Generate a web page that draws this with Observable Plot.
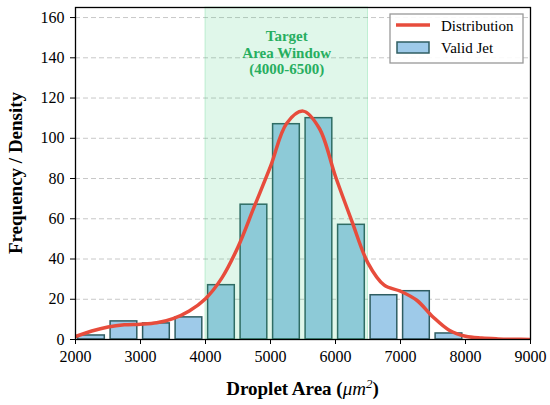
<!DOCTYPE html>
<html>
<head>
<meta charset="utf-8">
<script src="https://cdn.jsdelivr.net/npm/d3@7"></script>
<script src="https://cdn.jsdelivr.net/npm/@observablehq/plot@0.6"></script>
<style>
  html, body { margin: 0; padding: 0; background: #fff; }
  #chart { width: 550px; height: 405px; }
</style>
</head>
<body>
<div id="chart"></div>
<script>
// ---- data ----
const binStarts = [2000, 2500, 3000, 3500, 4000, 4500, 5000, 5500, 6000, 6500, 7000, 7500];
const counts    = [2, 9, 8, 11, 27, 67, 107, 110, 57, 22, 24, 3];
const curveX = [2000, 2250, 2500, 2750, 3000, 3250, 3500, 3750, 4000, 4250, 4500, 4750, 5000, 5250, 5500, 5750, 6000, 6250, 6500, 6750, 7000, 7250, 7500, 7750, 8000, 8250, 8500, 8750, 9000];
const curveY = [1.5, 4.2, 6.2, 7.3, 7.6, 8.3, 10.4, 14.2, 20.3, 30.5, 46, 66, 86, 107.5, 113.5, 105, 81, 59, 38, 27, 24, 19.5, 11.2, 4.6, 1.6, 0.7, 0.3, 0.1, 0.05];
const windowRange = [4000, 6500];
const windowLabel = "Target\nArea Window\n(4000-6500)";
const xTicks = [2000, 3000, 4000, 5000, 6000, 7000, 8000, 9000];
const yTicks = [0, 20, 40, 60, 80, 100, 120, 140, 160];
const xDomain = [2000, 9000];
const yDomain = [0, 165];
const seriesNames = ["Distribution", "Valid Jet"];

const binWidth = binStarts[1] - binStarts[0];
const bars = binStarts.map((s, i) => ({start: s, end: s + binWidth, count: counts[i]}));
const curve = curveX.map((x, i) => ({x, y: curveY[i]}));

const FONT = "Liberation Serif";
const RED = "#e74c3c";
const BAR = "#9ecae9";
const EDGE = "#2f5d62";
const GREEN = "#2ecc71";
const GREEN_TXT = "#27ae60";

const plot = Plot.plot({
  width: 550,
  height: 405,
  marginLeft: 75,
  marginRight: 20,
  marginTop: 7,
  marginBottom: 66,
  style: {fontSize: "16px", background: "#fff", color: "#000"},
  x: {domain: xDomain},
  y: {domain: yDomain},
  marks: [
    Plot.gridY(yTicks, {stroke: "#c8c8c8", strokeOpacity: 1, strokeWidth: 1, strokeDasharray: "5,3"}),
    Plot.rectY(bars, {x1: "start", x2: "end", y: "count", insetLeft: 2.6, insetRight: 3.2,
      fill: BAR, stroke: EDGE, strokeWidth: 1.5}),
    Plot.rectX([windowRange], {x1: d => d[0], x2: d => d[1],
      fill: GREEN, fillOpacity: 0.15, stroke: GREEN, strokeOpacity: 0.25, strokeWidth: 1}),
    Plot.line(curve, {x: "x", y: "y", stroke: RED, strokeWidth: 3.5, curve: "catmull-rom", clip: true}),
    Plot.text([windowLabel], {x: () => (windowRange[0] + windowRange[1]) / 2, text: d => d,
      frameAnchor: "top", lineAnchor: "top", dy: 22, lineHeight: 1.1,
      fill: GREEN_TXT, fontWeight: "bold", fontSize: 15}),
    Plot.axisX({ticks: xTicks, tickFormat: d => String(d), tickSize: 5, tickPadding: 6,
      fontSize: 16, label: null, stroke: "#000", fill: "#000"}),
    Plot.axisY({ticks: yTicks, tickFormat: d => String(d), tickSize: 5, tickPadding: 6,
      fontSize: 16, label: null, stroke: "#000", fill: "#000"}),
    Plot.frame({stroke: "#000", strokeWidth: 1.3})
  ]
});

document.getElementById("chart").appendChild(plot);

// ---- axis labels & legend ----
const svg = d3.select(plot);
const fx = plot.scale("x"), fy = plot.scale("y");
const pLeft = fx.range[0], pRight = fx.range[1];
const pTop = fy.range[1], pBottom = fy.range[0];

const xl = svg.append("text")
  .attr("x", (pLeft + pRight) / 2).attr("y", 395)
  .attr("text-anchor", "middle")
  .attr("font-size", 19).attr("font-weight", "bold").attr("fill", "#000");
xl.append("tspan").text("Droplet Area (");
xl.append("tspan").attr("font-style", "italic").attr("font-weight", "normal").text("μm");
xl.append("tspan").attr("font-style", "italic").attr("font-weight", "normal").attr("font-size", 13).attr("dy", -7).text("2");
xl.append("tspan").attr("dy", 7).text(")");

svg.append("text")
  .attr("transform", `translate(22,${(pTop + pBottom) / 2}) rotate(-90)`)
  .attr("text-anchor", "middle")
  .attr("font-size", 19).attr("font-weight", "bold").attr("fill", "#000")
  .text("Frequency / Density");

const lg = svg.append("g").attr("transform", `translate(${pRight - 140},${pTop + 7})`);
lg.append("rect").attr("x", 0).attr("y", 0).attr("width", 133).attr("height", 49)
  .attr("fill", "#fff").attr("fill-opacity", 0.9).attr("stroke", "#999").attr("stroke-width", 1.3);
lg.append("line").attr("x1", 6).attr("x2", 40).attr("y1", 11).attr("y2", 11)
  .attr("stroke", RED).attr("stroke-width", 3.5);
lg.append("rect").attr("x", 7).attr("y", 28).attr("width", 32).attr("height", 11)
  .attr("fill", BAR).attr("stroke", EDGE).attr("stroke-width", 1.5);
lg.append("text").attr("x", 51).attr("y", 17).attr("text-anchor", "start").attr("font-size", 15)
  .attr("fill", "#000").text(seriesNames[0]);
lg.append("text").attr("x", 51).attr("y", 39).attr("text-anchor", "start").attr("font-size", 15)
  .attr("fill", "#000").text(seriesNames[1]);

// apply serif font to every text element directly
plot.setAttribute("font-family", FONT);
plot.style.fontFamily = FONT;
svg.selectAll("text, tspan").each(function() { this.style.fontFamily = FONT; });
</script>
</body>
</html>
